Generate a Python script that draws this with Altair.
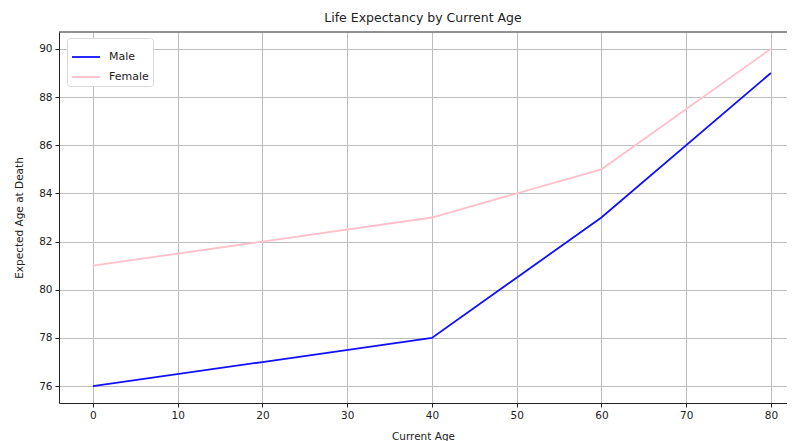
import altair as alt
import pandas as pd

ages = [0, 20, 40, 60, 80]
male = [76, 77, 78, 83, 89]
female = [81, 82, 83, 85, 90]
series = ["Male", "Female"]
colors = ["#1010ff", "#ffc0cb"]

df = pd.DataFrame({
    "age": ages * 2,
    "value": male + female,
    "sex": ["Male"] * len(ages) + ["Female"] * len(ages),
})

W, H = 728, 371
FONT = "DejaVu Sans"

lines = alt.Chart(df).mark_line(strokeWidth=1.8).encode(
    x=alt.X("age:Q", title="Current Age",
            scale=alt.Scale(domain=[-4, 81.9], nice=False, zero=False),
            axis=alt.Axis(values=list(range(0, 90, 10)), titleY=28)),
    y=alt.Y("value:Q", title="Expected Age at Death",
            scale=alt.Scale(domain=[75.3, 90.7], nice=False, zero=False),
            axis=alt.Axis(values=list(range(76, 92, 2)))),
    color=alt.Color("sex:N", sort=series,
                    scale=alt.Scale(domain=series, range=colors),
                    legend=alt.Legend(title=None, orient="none", legendX=8, legendY=6,
                                      symbolType="stroke", symbolSize=784, symbolStrokeWidth=1.8,
                                      fillColor="white", strokeColor="#d8d8d8", padding=4,
                                      cornerRadius=3, labelFontSize=11, labelFont=FONT,
                                      labelColor="#222", rowPadding=-9, labelOffset=8)),
)

top = alt.Chart(pd.DataFrame({"a": [0]})).mark_rule(color="#222", strokeWidth=1).encode(
    x=alt.value(0), x2=alt.value(W), y=alt.value(0)
)

chart = alt.layer(lines, top).properties(
    width=W, height=H,
    title=alt.TitleParams("Life Expectancy by Current Age", font=FONT, fontSize=12.5,
                          fontWeight="normal", color="#222", anchor="middle", offset=7),
    autosize=alt.AutoSizeParams(type="none"),
    padding={"left": 51, "top": 24, "right": 0, "bottom": 38},
).configure_view(stroke=None).configure_axis(
    labelFont=FONT, titleFont=FONT, labelFontSize=10.5, titleFontSize=10.5,
    labelColor="#222", titleColor="#222", titleFontWeight="normal",
    domainColor="#222", domainWidth=1, tickColor="#222", tickSize=4, labelPadding=3,
    gridColor="#bdbdbd", gridWidth=1,
).configure_axisY(titlePadding=14)

chart.save("out.html", embed_options={"renderer": "svg", "actions": False})
